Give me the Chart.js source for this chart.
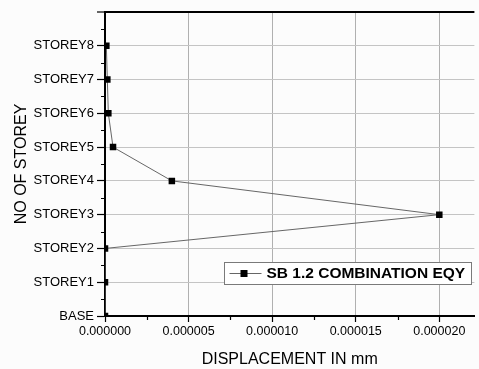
<!DOCTYPE html>
<html>
<head>
<meta charset="utf-8">
<script src="https://cdn.jsdelivr.net/npm/chart.js@4/dist/chart.umd.min.js"></script>
<style>
  body{ margin:0; background:#fcfcfc; }
  #wrap{ width:479px; height:369px; }
</style>
</head>
<body>
<div id="wrap"><canvas id="chart" width="479" height="369"></canvas></div>
<script>

const storeys      = ['BASE','STOREY1','STOREY2','STOREY3','STOREY4','STOREY5','STOREY6','STOREY7','STOREY8']
const displacement = [0, 0, 0, 0.00002, 0.000004, 0.00000048, 0.0000002, 0.00000014, 0.00000008]
const xTicks       = [0, 0.000005, 0.00001, 0.000015, 0.00002]
const seriesName   = 'SB 1.2 COMBINATION EQY'

const FONT = '"Liberation Sans", Arial, sans-serif'


function getPoints(){
      return displacement.map((v, i)=>({ x: v, y: i }))
}


//small minor ticks between the labelled ones
const minorTicks = {
      id: 'minorTicks',
      afterDraw(chart){
            const ctx = chart.ctx
            const xs = chart.scales.x, ys = chart.scales.y
            ctx.save()
            ctx.strokeStyle = '#000'
            ctx.lineWidth = 1.2
            ctx.beginPath()
            for(let v = 0.5; v < 9; v++){
                  const py = Math.round(ys.getPixelForValue(v)) + 0.5
                  ctx.moveTo(xs.left - 4, py); ctx.lineTo(xs.left, py)
            }
            for(let i = 0; i < xTicks.length; i++){
                  const v = xTicks[i] + 0.0000025
                  if(v > xs.max) break
                  const px = Math.round(xs.getPixelForValue(v)) + 0.5
                  ctx.moveTo(px, ys.bottom); ctx.lineTo(px, ys.bottom + 4)
            }
            ctx.stroke()
            ctx.restore()
      }
}


//legend box inside the plot, like the original
const boxLegend = {
      id: 'boxLegend',
      afterDraw(chart){
            const ctx = chart.ctx
            const ds = chart.data.datasets[0]
            const x = 224.5, y = 262.5, w = 247, h = 22
            ctx.save()
            ctx.fillStyle = '#ffffff'
            ctx.fillRect(x, y, w, h)
            ctx.strokeStyle = '#7a7a7a'
            ctx.lineWidth = 1
            ctx.strokeRect(x, y, w, h)

            const cy = y + h / 2
            ctx.strokeStyle = ds.borderColor
            ctx.beginPath(); ctx.moveTo(x + 5, cy); ctx.lineTo(x + 37, cy); ctx.stroke()
            ctx.fillStyle = '#000'
            ctx.fillRect(x + 16, cy - 3.5, 7, 7)

            ctx.font = 'bold 15.5px ' + FONT
            ctx.textBaseline = 'middle'
            ctx.fillText(ds.label, x + 42, cy + 0.5)
            ctx.restore()
      }
}


const setup = {
      type: 'scatter',
      data: {
            datasets: [{
                  label: seriesName,
                  data: getPoints(),
                  showLine: true,
                  borderColor: '#666666',
                  borderWidth: 1,
                  backgroundColor: '#000',
                  pointStyle: 'rect',
                  pointRadius: 4.6,
                  pointBorderWidth: 0,
                  pointBackgroundColor: '#000',
                  pointBorderColor: '#000',
            }]
      },
      options: {
            responsive: false,
            animation: false,
            layout: { padding: { top: 12, right: 0, left: 0, bottom: 0 } },
            plugins: {
                  legend: { display: false },
                  tooltip: { enabled: false },
            },
            scales: {
                  x: {
                        type: 'linear',
                        min: 0,
                        max: 0.0000221,
                        afterBuildTicks: (s)=>{ s.ticks = xTicks.map(v=>({ value: v })) },
                        afterFit: (s)=>{ s.height = 53 },
                        border: { color: '#000', width: 2 },
                        grid: {
                              color: '#b0b0b0',
                              lineWidth: 1,
                              tickColor: '#000',
                              tickLength: 6,
                              tickWidth: 1.2,
                        },
                        ticks: {
                              color: '#000',
                              padding: 2,
                              maxRotation: 0,
                              font: { family: FONT, size: 12.5 },
                              callback: (v)=> Number(v).toFixed(6),
                        },
                        title: {
                              display: true,
                              text: 'DISPLACEMENT IN mm',
                              color: '#000',
                              font: { family: FONT, size: 16 },
                              padding: { top: 2, bottom: 0 },
                        },
                  },
                  y: {
                        type: 'linear',
                        min: 0,
                        max: 9,
                        afterBuildTicks: (s)=>{ s.ticks = storeys.map((c, i)=>({ value: i })).concat([{ value: 9 }]) },
                        afterFit: (s)=>{ s.width = 105 },
                        border: { color: '#000', width: 2 },
                        grid: {
                              color: (c)=> c.tick && c.tick.value === 9 ? '#000' : '#c4c4c4',
                              lineWidth: (c)=> c.tick && c.tick.value === 9 ? 2 : 1,
                              tickColor: '#000',
                              tickLength: 8,
                              tickWidth: 1.2,
                        },
                        ticks: {
                              color: '#000',
                              padding: 3,
                              font: { family: FONT, size: 13 },
                              callback: (v)=> storeys[v] !== undefined ? storeys[v] : '',
                        },
                        title: {
                              display: true,
                              text: 'NO OF STOREY',
                              color: '#000',
                              font: { family: FONT, size: 16 },
                              padding: { top: 12, bottom: 0 },
                        },
                  },
            },
      },
      plugins: [minorTicks, boxLegend],
}

new Chart(document.getElementById('chart'), setup)

</script>
</body>
</html>
